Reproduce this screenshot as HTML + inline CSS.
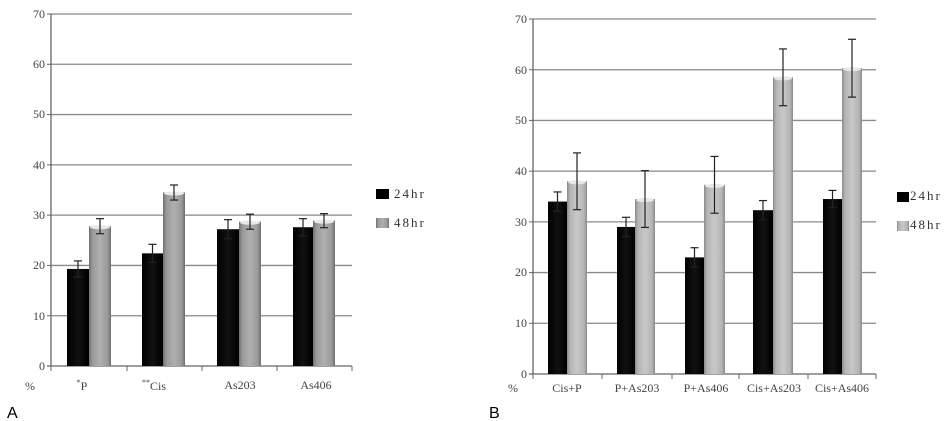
<!DOCTYPE html>
<html><head><meta charset="utf-8"><style>
body{margin:0;background:#fff;}
svg{display:block;font-family:"Liberation Serif",serif;}
</style></head><body>
<svg id="s" width="946" height="421" viewBox="0 0 946 421" xmlns="http://www.w3.org/2000/svg">
<defs>
<linearGradient id="gk" x1="0" x2="1"><stop offset="0" stop-color="#000"/><stop offset="0.5" stop-color="#111"/><stop offset="1" stop-color="#000"/></linearGradient>
<linearGradient id="ga" x1="0" x2="1"><stop offset="0" stop-color="#6e6e6e"/><stop offset="0.15" stop-color="#999"/><stop offset="0.5" stop-color="#b0b0b0"/><stop offset="0.85" stop-color="#999"/><stop offset="1" stop-color="#6e6e6e"/></linearGradient>
<linearGradient id="gb" x1="0" x2="1"><stop offset="0" stop-color="#8a8a8a"/><stop offset="0.15" stop-color="#b4b4b4"/><stop offset="0.5" stop-color="#c8c8c8"/><stop offset="0.85" stop-color="#b4b4b4"/><stop offset="1" stop-color="#8a8a8a"/></linearGradient>
</defs>
<g font-size="12" fill="#444" text-anchor="end">
<text x="45" y="18">70</text><text x="45" y="68">60</text><text x="45" y="118">50</text><text x="45" y="169">40</text><text x="45" y="219">30</text><text x="45" y="269">20</text><text x="45" y="320">10</text><text x="45" y="370">0</text>
<text x="527" y="23">70</text><text x="527" y="74">60</text><text x="527" y="124">50</text><text x="527" y="175">40</text><text x="527" y="226">30</text><text x="527" y="276">20</text><text x="527" y="327">10</text><text x="527" y="378">0</text>
</g>
<g font-size="12" fill="#444" text-anchor="middle">
<text x="30" y="390">%</text>
<text x="82" y="390"><tspan font-size="8" dy="-5">*</tspan><tspan dy="5">P</tspan></text>
<text x="154" y="390"><tspan font-size="8" dy="-5">**</tspan><tspan dy="5">Cis</tspan></text>
<text x="240" y="389">As203</text>
<text x="316" y="389">As406</text>
<text x="513" y="392">%</text>
<text x="567" y="392">Cis+P</text>
<text x="637" y="392">P+As203</text>
<text x="706" y="392">P+As406</text>
<text x="774" y="392">Cis+As203</text>
<text x="842" y="392">Cis+As406</text>
</g>
<g font-size="13" fill="#333" letter-spacing="2">
<text x="394" y="198">24hr</text><text x="394" y="227">48hr</text>
<text x="910" y="200">24hr</text><text x="910" y="229">48hr</text>
</g>
<rect x="376" y="189" width="13" height="10" fill="#000"/>
<rect x="376" y="218" width="13" height="10" fill="url(#ga)"/>
<rect x="897" y="192" width="12" height="10" fill="#000"/>
<rect x="897" y="221" width="12" height="10" fill="url(#gb)"/>
<g font-family="Liberation Sans,sans-serif" font-size="16" fill="#000">
<text x="7" y="418">A</text><text x="489" y="418">B</text>
</g>
<g id="g"></g>
</svg>
<script>
var ns="http://www.w3.org/2000/svg",g=document.getElementById('g');
function el(t,a){var e=document.createElementNS(ns,t);for(var k in a)e.setAttribute(k,a[k]);g.appendChild(e);return e;}
function chart(x0,x1,y0,ytop,ticks,bars,grey){
 var s=(y0-ytop)/70;
 for(var v=10;v<=70;v+=10){var y=y0-v*s;el('line',{x1:x0,x2:x1,y1:y,y2:y,stroke:'#8a8a8a','stroke-width':1.3});el('line',{x1:x0-4,x2:x0,y1:y,y2:y,stroke:'#666'});}
 el('line',{x1:x0-4,x2:x1,y1:y0,y2:y0,stroke:'#666','stroke-width':1.3});
 el('line',{x1:x0,x2:x0,y1:ytop,y2:y0,stroke:'#666','stroke-width':1.3});
 ticks.forEach(function(t){el('line',{x1:t,x2:t,y1:y0,y2:y0+5,stroke:'#666'});});
 bars.forEach(function(b){
  var y=y0-b[2]*s;
  el('rect',{x:b[0],y:y,width:b[1]-b[0],height:y0-y,fill:b[4]?grey:'url(#gk)'});
  if(b[4]) el('ellipse',{cx:(b[0]+b[1])/2,cy:y+1,rx:(b[1]-b[0])/2-1,ry:2,fill:'#e8e8e8'});
  var cx=(b[0]+b[1])/2,ya=y-b[3]*s,yb=y+b[3]*s;
  el('line',{x1:cx,x2:cx,y1:ya,y2:yb,stroke:'#222','stroke-width':1.2});
  el('line',{x1:cx-4,x2:cx+4,y1:ya,y2:ya,stroke:'#222','stroke-width':1.2});
  el('line',{x1:cx-4,x2:cx+4,y1:yb,y2:yb,stroke:'#222','stroke-width':1.2});
 });
}
chart(51,352,366,14,[51,127,202,277,352],[
[67,89,19.3,1.6,0],[89,111,27.8,1.5,1],
[142,163,22.4,1.8,0],[163,185,34.5,1.5,1],
[217,239,27.2,1.9,0],[239,261,28.7,1.5,1],
[293,313,27.6,1.7,0],[313,335,28.9,1.4,1]],'url(#ga)');
chart(533,876,374,19,[533,602,672,739,808,876],[
[548,567,34,1.9,0],[567,587,38,5.6,1],
[617,635,29,1.9,0],[635,655,34.5,5.6,1],
[685,704,23,1.9,0],[704,725,37.3,5.6,1],
[753,773,32.3,1.9,0],[773,793,58.5,5.6,1],
[823,842,34.5,1.7,0],[842,862,60.3,5.7,1]],'url(#gb)');
</script>
</body></html>
